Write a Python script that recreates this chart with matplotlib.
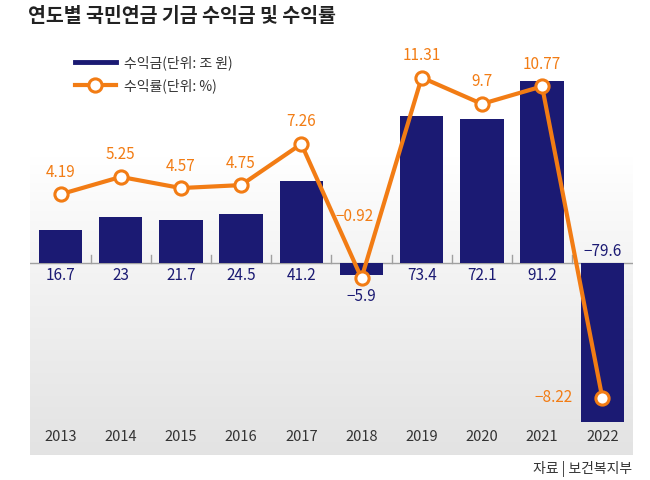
import matplotlib.pyplot as plt
import numpy as np
from matplotlib.lines import Line2D
import matplotlib.transforms as mtransforms

plt.rcParams['font.family'] = ['Noto Sans CJK KR', 'DejaVu Sans']

years = ['2013', '2014', '2015', '2016', '2017', '2018', '2019', '2020', '2021', '2022']
income = [16.7, 23, 21.7, 24.5, 41.2, -5.9, 73.4, 72.1, 91.2, -79.6]
rate = [4.19, 5.25, 4.57, 4.75, 7.26, -0.92, 11.31, 9.7, 10.77, -8.22]
income_labels = ['16.7', '23', '21.7', '24.5', '41.2', '\u22125.9', '73.4', '72.1', '91.2', '\u221279.6']
rate_labels = ['4.19', '5.25', '4.57', '4.75', '7.26', '\u22120.92', '11.31', '9.7', '10.77', '\u22128.22']

navy = '#1b1a73'
orange = '#f27c14'

W, H = 650, 480
fig = plt.figure(figsize=(6.5, 4.8), dpi=100)
fig.patch.set_facecolor('white')

# box in pixels: x 30..633, y 30..455 (from top)
left, right, top, bottom = 30, 633, 30, 455
rect = [left / W, 1 - bottom / H, (right - left) / W, (bottom - top) / H]

# gradient background on its own axes
bg = fig.add_axes(rect, zorder=0)
g = np.linspace(0, 1, 256)
shade = np.clip((g - 0.3) / 0.7, 0, 1) ** 0.9
col = 1 - shade * (1 - 0.89)
img = np.repeat(np.stack([col, col, col], axis=1)[:, None, :], 2, axis=1)
bg.imshow(img, extent=[0, 1, 0, 1], aspect='auto', origin='upper', interpolation='bilinear')
bg.set_xlim(0, 1)
bg.set_ylim(0, 1)
bg.axis('off')

ax = fig.add_axes(rect, zorder=1)
ax.set_facecolor('none')
for s in ax.spines.values():
    s.set_visible(False)

x = np.arange(len(years))
zero_px = 263
bar_scale = 2.0  # px per unit
ax.set_xlim(-0.507, 9.51)
ax.set_ylim(-(bottom - zero_px) / bar_scale, (zero_px - top) / bar_scale)
ax.bar(x, income, width=0.72, color=navy, zorder=2)
ax.axhline(0, color='#a0a0a0', lw=1, zorder=1)
for b in x[:-1] + 0.5:
    ax.plot([b, b], [0, 4], color='#a0a0a0', lw=1, zorder=1)
ax.set_xticks([])
ax.set_yticks([])

trans = mtransforms.blended_transform_factory(ax.transData, ax.transAxes)
for i, y in enumerate(years):
    ax.text(i, (bottom - 437) / (bottom - top), y, transform=trans, ha='center', va='center',
            fontsize=10.5, color='#333333')

for i, v in enumerate(income):
    if v >= 0:
        pos, off = (i, 0), (0, -13)
    elif v > -20:
        pos, off = (i, v), (0, -22)
    else:
        pos, off = (i, 0), (0, 12)
    ax.annotate(income_labels[i], pos, xytext=off, textcoords='offset pixels',
                ha='center', va='center', fontsize=11, color=navy)

ax2 = ax.twinx()
for s in ax2.spines.values():
    s.set_visible(False)
rate_scale = 16.4
ax2.set_ylim(-(bottom - zero_px) / rate_scale, (zero_px - top) / rate_scale)
ax2.set_yticks([])
ax2.plot(x, rate, color=orange, lw=3, marker='o', markersize=9.5, markerfacecolor='white',
         markeredgecolor=orange, markeredgewidth=2.2, zorder=3)

for i, v in enumerate(rate):
    if i == 5:
        off, ha = (-7, 62), 'center'
    elif i == 9:
        off, ha = (-30, 0), 'right'
    else:
        off, ha = (0, 22), 'center'
    ax2.annotate(rate_labels[i], (i, v), xytext=off, textcoords='offset pixels',
                 ha=ha, va='center', fontsize=11, color=orange)

handles = [Line2D([], [], color=navy, lw=3.5),
           Line2D([], [], color=orange, lw=3, marker='o', markersize=9.5, markerfacecolor='white',
                  markeredgecolor=orange, markeredgewidth=2.2)]
fig.legend(handles, ['수익금(단위: 조 원)', '수익률(단위: %)'], loc='upper left',
           bbox_to_anchor=(62 / W, 1 - 43 / H), frameon=False, fontsize=10,
           handlelength=3.0, labelspacing=0.55, handletextpad=0.6, labelcolor='#333333')

fig.text(28 / W, 1 - 17 / H, '연도별 국민연금 기금 수익금 및 수익률', fontsize=14, fontweight='bold',
         color='#222222', ha='left', va='center')
fig.text(632 / W, 1 - 469 / H, '자료 | 보건복지부', fontsize=10, color='#333333', ha='right', va='center')

fig.savefig('out.png', dpi=100)
